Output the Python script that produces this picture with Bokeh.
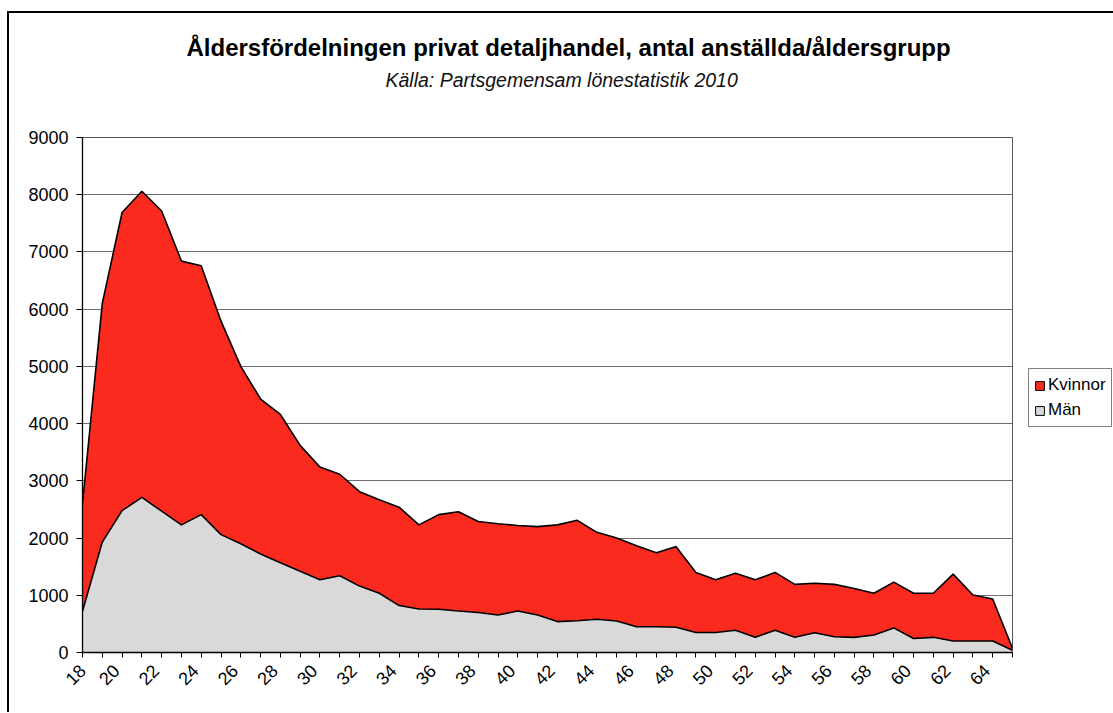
from bokeh.plotting import figure
from bokeh.models import (ColumnDataSource, Range1d, FixedTicker, Title, Legend, LegendItem,
                          CustomJSTickFormatter)
from bokeh.embed import file_html
from bokeh.resources import INLINE
from math import pi

# ---- data ----
ages = list(range(18, 66))
man = [720, 1930, 2480, 2710, 2470, 2230, 2410, 2060, 1900, 1720, 1570, 1420, 1270, 1340,
       1160, 1035, 820, 760, 755, 725, 700, 655, 725, 655, 540, 555, 580, 550, 450, 450,
       440, 350, 350, 390, 265, 390, 265, 345, 275, 265, 305, 430, 245, 265, 200, 200, 200, 40]
kvinnor = [1880, 4170, 5210, 5350, 5245, 4610, 4350, 3730, 3100, 2710, 2590, 2200, 1970, 1775,
           1650, 1635, 1720, 1470, 1655, 1735, 1590, 1595, 1495, 1545, 1690, 1755, 1520, 1450,
           1415, 1295, 1410, 1050, 920, 995, 1005, 1010, 925, 865, 915, 855, 730, 800, 790, 770,
           1170, 805, 735, 30]
series_names = ["Kvinnor", "Män"]
title_text = "Åldersfördelningen privat detaljhandel, antal anställda/åldersgrupp"
subtitle_text = "Källa: Partsgemensam lönestatistik 2010"
y_ticks = list(range(0, 10000, 1000))
x_label_ages = list(range(18, 65, 2))

RED = "#FA2A1E"
GRAY = "#D9D9D9"
FONT = "Liberation Sans"
LABEL_SHIFT = 0.3  # rotated labels sit a little left of their tick

source = ColumnDataSource(dict(age=ages, man=man, kvinnor=kvinnor))

p = figure(width=1104, height=698, output_backend="svg", toolbar_location=None,
           x_range=Range1d(18, 65), y_range=Range1d(0, 9000),
           frame_width=930, frame_height=515,
           min_border_left=73, min_border_right=101, min_border_top=10, min_border_bottom=60)

p.varea_stack(["man", "kvinnor"], x="age", color=[GRAY, RED], source=source)
p.vline_stack(["man", "kvinnor"], x="age", color="black", line_width=1.6, source=source)

# titles (added from the plot outward)
p.add_layout(Title(text=" ", text_font_size="27px"), "above")
p.add_layout(Title(text=subtitle_text, text_font=FONT, text_font_style="italic",
                   text_font_size="19.5px", align="left", offset=303, text_color="#111111"), "above")
p.add_layout(Title(text=title_text, text_font=FONT, text_font_style="bold",
                   text_font_size="24px", align="left", offset=104, text_color="#000000",
                   standoff=2), "above")
p.add_layout(Title(text=" ", text_font_size="4px"), "above")

# axes
p.yaxis.ticker = FixedTicker(ticks=y_ticks)
p.yaxis.major_label_text_font = FONT
p.yaxis.major_label_text_font_size = "18px"
p.yaxis.major_label_text_color = "black"
p.yaxis.major_tick_out = 6
p.yaxis.major_tick_in = 0
p.yaxis.major_label_standoff = 8
p.yaxis.minor_tick_line_color = None
p.yaxis.axis_line_color = "black"
p.yaxis.axis_line_width = 1.3

label_pos = [x_label_ages[0]] + [a - LABEL_SHIFT for a in x_label_ages[1:]]
p.xaxis.ticker = FixedTicker(ticks=label_pos, minor_ticks=ages)
p.xaxis.formatter = CustomJSTickFormatter(code="return String(Math.round(tick));")
p.xaxis.major_label_orientation = pi / 4
p.xaxis.major_label_text_font = FONT
p.xaxis.major_label_text_font_size = "18px"
p.xaxis.major_label_text_color = "black"
p.xaxis.major_tick_line_color = None
p.xaxis.major_tick_out = 5
p.xaxis.major_tick_in = 0
p.xaxis.minor_tick_out = 5
p.xaxis.minor_tick_in = 0
p.xaxis.minor_tick_line_color = "black"
p.xaxis.axis_line_color = "black"
p.xaxis.axis_line_width = 1.3
p.xaxis.major_label_standoff = 10

p.xgrid.grid_line_color = None
p.ygrid.grid_line_color = "#6E6E6E"
p.ygrid.grid_line_width = 1.1

p.outline_line_color = "#555555"
p.outline_line_width = 1
p.background_fill_color = "white"
p.border_fill_color = "white"

# legend swatches: one box each, placed below the visible y range so only the legend shows it
swatch_src = ColumnDataSource(dict(left=[ages[0]], right=[ages[1]], top=[-1000], bottom=[-2000]))
r_k = p.quad(left="left", right="right", top="top", bottom="bottom", source=swatch_src,
             fill_color=RED, line_color="black", line_width=1)
r_m = p.quad(left="left", right="right", top="top", bottom="bottom", source=swatch_src,
             fill_color=GRAY, line_color="black", line_width=1)
legend = Legend(items=[LegendItem(label=series_names[0], renderers=[r_k]),
                       LegendItem(label=series_names[1], renderers=[r_m])],
                location=(16, 225), orientation="vertical",
                label_text_font=FONT, label_text_font_size="17px", label_text_color="black",
                glyph_width=11, glyph_height=11, label_standoff=3,
                spacing=3, padding=5, margin=0,
                border_line_color="black", border_line_width=1,
                background_fill_color="white", background_fill_alpha=1,
                label_height=22)
p.add_layout(legend, "right")

p.styles = {"margin-left": "7px", "margin-top": "11px",
            "border-left": "2px solid black", "border-top": "2px solid black"}

open("out.html", "w").write(file_html(p, INLINE))
